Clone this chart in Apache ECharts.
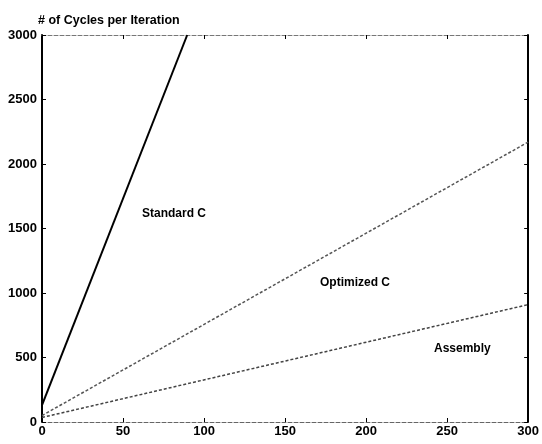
<!DOCTYPE html>
<html>
<head>
<meta charset="utf-8">
<script src="https://cdn.jsdelivr.net/npm/echarts@6/dist/echarts.min.js"></script>
<style>
  html, body { margin: 0; padding: 0; background: #fff; }
  #chart { width: 542px; height: 444px; }
</style>
</head>
<body>
<div id="chart"></div>
<script>
// values
var standardX = [0, 89.6];
var standardY = [130, 3000];
var optimizedX = [0, 300];
var optimizedY = [50, 2170];
var assemblyX = [0, 300];
var assemblyY = [35, 910];

var xTicks = [0, 50, 100, 150, 200, 250, 300];
var yTicks = [0, 500, 1000, 1500, 2000, 2500, 3000];

function pairs(xs, ys) {
  var out = [];
  for (var i = 0; i < xs.length; i++) out.push([xs[i], ys[i]]);
  return out;
}

var myChart = echarts.init(document.getElementById("chart"));
var fontFam = "Liberation Sans, Arial, sans-serif";
var labelFont = { color: "#000", fontSize: 13, fontWeight: "bold", fontFamily: fontFam };

var option = {
  animation: false,
  title: {
    text: "# of Cycles per Iteration",
    left: 33,
    top: 9,
    textStyle: { color: "#000", fontSize: 12.5, fontWeight: "bold", fontFamily: fontFam }
  },
  grid: { left: 42, right: 11, top: 35, bottom: 22 },
  xAxis: [
    {
      type: "value", min: 0, max: 300, interval: 50,
      axisLine: { onZero: false, lineStyle: { color: "#666", type: "dashed", width: 1 } },
      axisTick: { inside: true, length: 4, lineStyle: { color: "#000" } },
      axisLabel: Object.assign({ margin: 3, formatter: function (v) { return String(v); } }, labelFont),
      splitLine: { show: false }
    },
    {
      type: "value", min: 0, max: 300, interval: 50, position: "top",
      axisLine: { show: true, onZero: false, lineStyle: { color: "#777", type: "dashed", width: 1 } },
      axisTick: { inside: true, length: 4, lineStyle: { color: "#000" } },
      axisLabel: { show: false },
      splitLine: { show: false }
    }
  ],
  yAxis: [
    {
      type: "value", min: 0, max: 3000, interval: 500,
      axisLine: { show: true, onZero: false, lineStyle: { color: "#000", width: 2 } },
      axisTick: { inside: true, length: 4, lineStyle: { color: "#000" } },
      axisLabel: Object.assign({ margin: 5, formatter: function (v) { return String(v); } }, labelFont),
      splitLine: { show: false }
    },
    {
      type: "value", min: 0, max: 3000, interval: 500, position: "right",
      axisLine: { show: true, onZero: false, lineStyle: { color: "#000", width: 2 } },
      axisTick: { inside: true, length: 4, lineStyle: { color: "#000" } },
      axisLabel: { show: false },
      splitLine: { show: false }
    }
  ],
  series: [
    {
      name: "Standard C", type: "line", showSymbol: false,
      data: pairs(standardX, standardY),
      lineStyle: { color: "#000", width: 2 }
    },
    {
      name: "Optimized C", type: "line", showSymbol: false,
      data: pairs(optimizedX, optimizedY),
      lineStyle: { color: "#555", width: 1.5, type: [3, 2] }
    },
    {
      name: "Assembly", type: "line", showSymbol: false,
      data: pairs(assemblyX, assemblyY),
      lineStyle: { color: "#444", width: 1.5, type: [3, 2] }
    }
  ],
  graphic: [
    { type: "text", left: 142, top: 208, style: { text: "Standard C", font: "bold 12px " + fontFam, fill: "#000" } },
    { type: "text", left: 320, top: 277, style: { text: "Optimized C", font: "bold 12px " + fontFam, fill: "#000" } },
    { type: "text", left: 434, top: 343, style: { text: "Assembly", font: "bold 12px " + fontFam, fill: "#000" } }
  ]
};

option && myChart.setOption(option);
</script>
</body>
</html>
